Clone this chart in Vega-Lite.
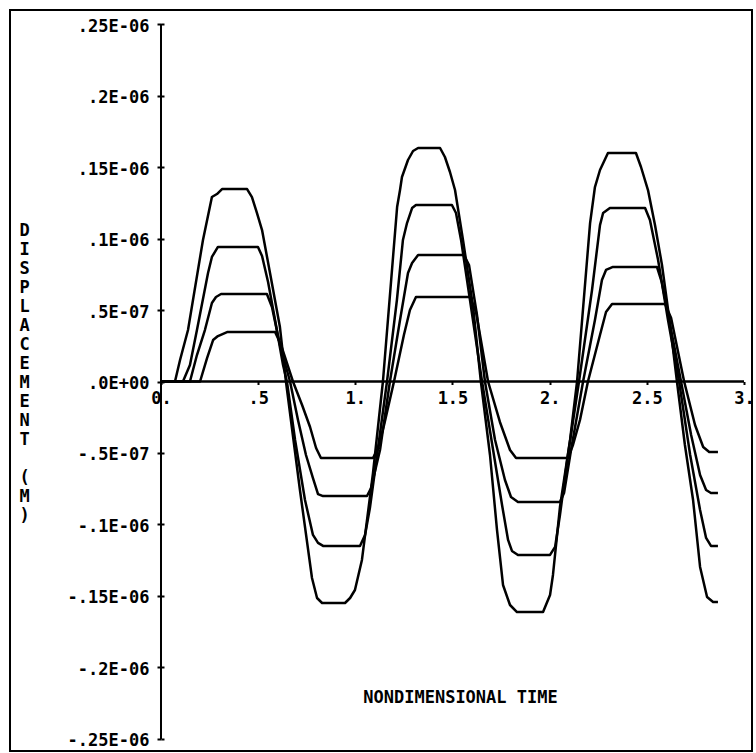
{
  "$schema": "https://vega.github.io/schema/vega-lite/v6.json",
  "width": 742,
  "height": 741,
  "autosize": {"type": "none"},
  "padding": {"left": 10, "top": 10, "right": 4, "bottom": 2},
  "background": "white",
  "config": {
    "view": {"stroke": "black", "strokeWidth": 2},
    "axis": {
      "labelFont": "DejaVu Sans Mono", "labelFontWeight": "bold", "labelColor": "black",
      "titleFont": "DejaVu Sans Mono", "titleFontWeight": "bold", "titleColor": "black",
      "grid": false, "domain": false, "tickColor": "black", "tickWidth": 2
    }
  },
  "resolve": {"axis": {"y": "independent"}},
  "datasets": {
    "curves": [
      {"curve":"A","time":0,"disp":0},{"curve":"A","time":0.072,"disp":0},{"curve":"A","time":0.098,"disp":0.150e-7},{"curve":"A","time":0.139,"disp":0.360e-7},{"curve":"A","time":0.216,"disp":0.990e-7},{"curve":"A","time":0.262,"disp":1.290e-7},{"curve":"A","time":0.288,"disp":1.311e-7},{"curve":"A","time":0.314,"disp":1.346e-7},{"curve":"A","time":0.443,"disp":1.346e-7},{"curve":"A","time":0.468,"disp":1.290e-7},{"curve":"A","time":0.494,"disp":1.178e-7},{"curve":"A","time":0.520,"disp":1.059e-7},{"curve":"A","time":0.561,"disp":0.759e-7},{"curve":"A","time":0.612,"disp":0.381e-7},{"curve":"A","time":0.643,"disp":0},{"curve":"A","time":0.715,"disp":-0.759e-7},{"curve":"A","time":0.777,"disp":-1.374e-7},{"curve":"A","time":0.803,"disp":-1.514e-7},{"curve":"A","time":0.829,"disp":-1.549e-7},{"curve":"A","time":0.947,"disp":-1.549e-7},{"curve":"A","time":0.973,"disp":-1.514e-7},{"curve":"A","time":0.998,"disp":-1.458e-7},{"curve":"A","time":1.034,"disp":-1.248e-7},{"curve":"A","time":1.091,"disp":-0.640e-7},{"curve":"A","time":1.142,"disp":0},{"curve":"A","time":1.215,"disp":1.220e-7},{"curve":"A","time":1.230,"disp":1.339e-7},{"curve":"A","time":1.240,"disp":1.430e-7},{"curve":"A","time":1.271,"disp":1.549e-7},{"curve":"A","time":1.297,"disp":1.612e-7},{"curve":"A","time":1.323,"disp":1.633e-7},{"curve":"A","time":1.436,"disp":1.633e-7},{"curve":"A","time":1.461,"disp":1.570e-7},{"curve":"A","time":1.487,"disp":1.465e-7},{"curve":"A","time":1.513,"disp":1.339e-7},{"curve":"A","time":1.554,"disp":0.990e-7},{"curve":"A","time":1.606,"disp":0.521e-7},{"curve":"A","time":1.646,"disp":0},{"curve":"A","time":1.693,"disp":-0.514e-7},{"curve":"A","time":1.729,"disp":-1.038e-7},{"curve":"A","time":1.760,"disp":-1.423e-7},{"curve":"A","time":1.796,"disp":-1.563e-7},{"curve":"A","time":1.832,"disp":-1.612e-7},{"curve":"A","time":1.966,"disp":-1.612e-7},{"curve":"A","time":2.002,"disp":-1.493e-7},{"curve":"A","time":2.017,"disp":-1.353e-7},{"curve":"A","time":2.053,"disp":-0.878e-7},{"curve":"A","time":2.105,"disp":-0.409e-7},{"curve":"A","time":2.141,"disp":0},{"curve":"A","time":2.208,"disp":1.108e-7},{"curve":"A","time":2.233,"disp":1.360e-7},{"curve":"A","time":2.259,"disp":1.479e-7},{"curve":"A","time":2.300,"disp":1.598e-7},{"curve":"A","time":2.444,"disp":1.598e-7},{"curve":"A","time":2.470,"disp":1.500e-7},{"curve":"A","time":2.506,"disp":1.339e-7},{"curve":"A","time":2.542,"disp":1.094e-7},{"curve":"A","time":2.578,"disp":0.815e-7},{"curve":"A","time":2.620,"disp":0.395e-7},{"curve":"A","time":2.655,"disp":0},{"curve":"A","time":2.696,"disp":-0.444e-7},{"curve":"A","time":2.738,"disp":-0.829e-7},{"curve":"A","time":2.774,"disp":-1.297e-7},{"curve":"A","time":2.810,"disp":-1.507e-7},{"curve":"A","time":2.841,"disp":-1.542e-7},{"curve":"A","time":2.866,"disp":-1.542e-7},

      {"curve":"B","time":0,"disp":0},{"curve":"B","time":0.113,"disp":0},{"curve":"B","time":0.149,"disp":0.115e-7},{"curve":"B","time":0.185,"disp":0.360e-7},{"curve":"B","time":0.242,"disp":0.759e-7},{"curve":"B","time":0.262,"disp":0.871e-7},{"curve":"B","time":0.293,"disp":0.941e-7},{"curve":"B","time":0.499,"disp":0.941e-7},{"curve":"B","time":0.520,"disp":0.878e-7},{"curve":"B","time":0.551,"disp":0.696e-7},{"curve":"B","time":0.587,"disp":0.430e-7},{"curve":"B","time":0.628,"disp":0.115e-7},{"curve":"B","time":0.648,"disp":0},{"curve":"B","time":0.690,"disp":-0.409e-7},{"curve":"B","time":0.741,"disp":-0.829e-7},{"curve":"B","time":0.782,"disp":-1.073e-7},{"curve":"B","time":0.808,"disp":-1.129e-7},{"curve":"B","time":0.834,"disp":-1.150e-7},{"curve":"B","time":1.024,"disp":-1.150e-7},{"curve":"B","time":1.050,"disp":-1.073e-7},{"curve":"B","time":1.075,"disp":-0.885e-7},{"curve":"B","time":1.112,"disp":-0.514e-7},{"curve":"B","time":1.163,"disp":0},{"curve":"B","time":1.214,"disp":0.570e-7},{"curve":"B","time":1.245,"disp":0.990e-7},{"curve":"B","time":1.266,"disp":1.108e-7},{"curve":"B","time":1.292,"disp":1.213e-7},{"curve":"B","time":1.312,"disp":1.234e-7},{"curve":"B","time":1.497,"disp":1.234e-7},{"curve":"B","time":1.518,"disp":1.178e-7},{"curve":"B","time":1.544,"disp":0.990e-7},{"curve":"B","time":1.590,"disp":0.570e-7},{"curve":"B","time":1.652,"disp":0},{"curve":"B","time":1.709,"disp":-0.479e-7},{"curve":"B","time":1.755,"disp":-0.864e-7},{"curve":"B","time":1.786,"disp":-1.108e-7},{"curve":"B","time":1.806,"disp":-1.185e-7},{"curve":"B","time":1.837,"disp":-1.213e-7},{"curve":"B","time":2.002,"disp":-1.213e-7},{"curve":"B","time":2.028,"disp":-1.157e-7},{"curve":"B","time":2.053,"disp":-0.934e-7},{"curve":"B","time":2.094,"disp":-0.514e-7},{"curve":"B","time":2.151,"disp":0},{"curve":"B","time":2.218,"disp":0.640e-7},{"curve":"B","time":2.259,"disp":1.094e-7},{"curve":"B","time":2.275,"disp":1.178e-7},{"curve":"B","time":2.310,"disp":1.213e-7},{"curve":"B","time":2.491,"disp":1.213e-7},{"curve":"B","time":2.516,"disp":1.129e-7},{"curve":"B","time":2.558,"disp":0.850e-7},{"curve":"B","time":2.609,"disp":0.430e-7},{"curve":"B","time":2.666,"disp":0},{"curve":"B","time":2.723,"disp":-0.514e-7},{"curve":"B","time":2.774,"disp":-0.899e-7},{"curve":"B","time":2.805,"disp":-1.094e-7},{"curve":"B","time":2.830,"disp":-1.150e-7},{"curve":"B","time":2.866,"disp":-1.150e-7},

      {"curve":"C","time":0,"disp":0},{"curve":"C","time":0.149,"disp":0},{"curve":"C","time":0.185,"disp":0.185e-7},{"curve":"C","time":0.226,"disp":0.360e-7},{"curve":"C","time":0.262,"disp":0.549e-7},{"curve":"C","time":0.283,"disp":0.591e-7},{"curve":"C","time":0.309,"disp":0.612e-7},{"curve":"C","time":0.545,"disp":0.612e-7},{"curve":"C","time":0.571,"disp":0.521e-7},{"curve":"C","time":0.612,"disp":0.255e-7},{"curve":"C","time":0.664,"disp":0},{"curve":"C","time":0.705,"disp":-0.269e-7},{"curve":"C","time":0.746,"disp":-0.514e-7},{"curve":"C","time":0.782,"disp":-0.675e-7},{"curve":"C","time":0.808,"disp":-0.787e-7},{"curve":"C","time":0.834,"disp":-0.801e-7},{"curve":"C","time":1.060,"disp":-0.801e-7},{"curve":"C","time":1.081,"disp":-0.745e-7},{"curve":"C","time":1.127,"disp":-0.479e-7},{"curve":"C","time":1.178,"disp":0},{"curve":"C","time":1.230,"disp":0.430e-7},{"curve":"C","time":1.271,"disp":0.759e-7},{"curve":"C","time":1.292,"disp":0.829e-7},{"curve":"C","time":1.323,"disp":0.885e-7},{"curve":"C","time":1.559,"disp":0.885e-7},{"curve":"C","time":1.585,"disp":0.815e-7},{"curve":"C","time":1.626,"disp":0.465e-7},{"curve":"C","time":1.667,"disp":0},{"curve":"C","time":1.719,"disp":-0.409e-7},{"curve":"C","time":1.770,"disp":-0.689e-7},{"curve":"C","time":1.801,"disp":-0.808e-7},{"curve":"C","time":1.837,"disp":-0.843e-7},{"curve":"C","time":2.053,"disp":-0.843e-7},{"curve":"C","time":2.074,"disp":-0.780e-7},{"curve":"C","time":2.110,"disp":-0.479e-7},{"curve":"C","time":2.172,"disp":0},{"curve":"C","time":2.233,"disp":0.430e-7},{"curve":"C","time":2.269,"disp":0.710e-7},{"curve":"C","time":2.290,"disp":0.780e-7},{"curve":"C","time":2.326,"disp":0.801e-7},{"curve":"C","time":2.552,"disp":0.801e-7},{"curve":"C","time":2.578,"disp":0.689e-7},{"curve":"C","time":2.620,"disp":0.395e-7},{"curve":"C","time":2.676,"disp":0},{"curve":"C","time":2.728,"disp":-0.374e-7},{"curve":"C","time":2.774,"disp":-0.654e-7},{"curve":"C","time":2.805,"disp":-0.759e-7},{"curve":"C","time":2.830,"disp":-0.780e-7},{"curve":"C","time":2.866,"disp":-0.780e-7},

      {"curve":"D","time":0,"disp":0},{"curve":"D","time":0.201,"disp":0},{"curve":"D","time":0.237,"disp":0.164e-7},{"curve":"D","time":0.268,"disp":0.290e-7},{"curve":"D","time":0.293,"disp":0.318e-7},{"curve":"D","time":0.340,"disp":0.346e-7},{"curve":"D","time":0.587,"disp":0.346e-7},{"curve":"D","time":0.618,"disp":0.255e-7},{"curve":"D","time":0.679,"disp":0},{"curve":"D","time":0.726,"disp":-0.164e-7},{"curve":"D","time":0.767,"disp":-0.318e-7},{"curve":"D","time":0.798,"disp":-0.465e-7},{"curve":"D","time":0.823,"disp":-0.535e-7},{"curve":"D","time":1.091,"disp":-0.535e-7},{"curve":"D","time":1.117,"disp":-0.465e-7},{"curve":"D","time":1.148,"disp":-0.304e-7},{"curve":"D","time":1.199,"disp":0},{"curve":"D","time":1.250,"disp":0.325e-7},{"curve":"D","time":1.281,"disp":0.500e-7},{"curve":"D","time":1.312,"disp":0.591e-7},{"curve":"D","time":1.590,"disp":0.591e-7},{"curve":"D","time":1.621,"disp":0.486e-7},{"curve":"D","time":1.683,"disp":0},{"curve":"D","time":1.744,"disp":-0.283e-7},{"curve":"D","time":1.796,"disp":-0.479e-7},{"curve":"D","time":1.827,"disp":-0.535e-7},{"curve":"D","time":2.094,"disp":-0.535e-7},{"curve":"D","time":2.120,"disp":-0.444e-7},{"curve":"D","time":2.156,"disp":-0.269e-7},{"curve":"D","time":2.197,"disp":0},{"curve":"D","time":2.259,"disp":0.325e-7},{"curve":"D","time":2.290,"disp":0.486e-7},{"curve":"D","time":2.321,"disp":0.542e-7},{"curve":"D","time":2.594,"disp":0.542e-7},{"curve":"D","time":2.625,"disp":0.444e-7},{"curve":"D","time":2.692,"disp":0},{"curve":"D","time":2.748,"disp":-0.304e-7},{"curve":"D","time":2.790,"disp":-0.458e-7},{"curve":"D","time":2.821,"disp":-0.493e-7},{"curve":"D","time":2.866,"disp":-0.493e-7}
    ]
  },
  "layer": [
    {
      "data": {"name": "curves"},
      "mark": {"type": "line", "color": "black", "strokeWidth": 2.5, "strokeJoin": "round"},
      "encoding": {
        "x": {
          "field": "time", "type": "quantitative",
          "scale": {"domain": [-0.777, 3.0412], "nice": false, "zero": false},
          "axis": {
            "orient": "bottom", "offset": -369.5,
            "values": [0, 0.5, 1, 1.5, 2, 2.5, 3],
            "labelExpr": "datum.value == 0 ? '0.' : datum.value == 0.5 ? '.5' : datum.value == 1 ? '1.' : datum.value == 1.5 ? '1.5' : datum.value == 2 ? '2.' : datum.value == 2.5 ? '2.5' : '3.'",
            "tickSize": 3, "labelPadding": 6, "labelFontSize": 17,
            "labelOverlap": false, "labelFlush": false, "labelBound": false,
            "title": "NONDIMENSIONAL TIME", "titleX": 450, "titleY": 315.5,
            "titleAlign": "center", "titleBaseline": "middle", "titleFontSize": 17
          }
        },
        "y": {
          "field": "disp", "type": "quantitative",
          "scale": {"domain": [-2.584e-7, 2.598e-7], "nice": false, "zero": false},
          "axis": {
            "orient": "left", "offset": -151,
            "values": [-2.5e-7, -2e-7, -1.5e-7, -1e-7, -0.5e-7, 0, 0.5e-7, 1e-7, 1.5e-7, 2e-7, 2.5e-7],
            "labelExpr": "datum.value > 2.4e-7 ? '.25E-06' : datum.value > 1.9e-7 ? '.2E-06' : datum.value > 1.4e-7 ? '.15E-06' : datum.value > 0.9e-7 ? '.1E-06' : datum.value > 0.4e-7 ? '.5E-07' : datum.value > -0.1e-7 ? '.0E+00' : datum.value > -0.6e-7 ? '-.5E-07' : datum.value > -1.1e-7 ? '-.1E-06' : datum.value > -1.6e-7 ? '-.15E-06' : datum.value > -2.1e-7 ? '-.2E-06' : '-.25E-06'",
            "tickSize": 4, "labelPadding": 8, "labelFontSize": 17, "labelBaseline": "middle", "labelOffset": 2,
            "labelOverlap": false, "labelFlush": false, "labelBound": false,
            "title": ["D", "I", "S", "P", "L", "A", "C", "E", "M", "E", "N", "T", "\u2800", "(", "M", ")"],
            "titleAngle": 0, "titleX": -137, "titleY": 212, "titleAlign": "center",
            "titleBaseline": "top", "titleFontSize": 17, "titleLineHeight": 19
          }
        },
        "detail": {"field": "curve"}
      }
    },
    {
      "data": {"values": [{}]},
      "mark": {"type": "rule", "color": "black", "strokeWidth": 2.5},
      "encoding": {"x": {"datum": 0}, "x2": {"datum": 3}, "y": {"datum": 0, "axis": null}}
    },
    {
      "data": {"values": [{}]},
      "mark": {"type": "rule", "color": "black", "strokeWidth": 2},
      "encoding": {
        "x": {"datum": 0},
        "y": {"datum": -2.5e-7, "axis": {"orient": "right", "offset": -591, "values": [-2.5e-7, -2e-7, -1.5e-7, -1e-7, -0.5e-7, 0, 0.5e-7, 1e-7, 1.5e-7, 2e-7, 2.5e-7], "labels": false, "title": null, "tickSize": 3}},
        "y2": {"datum": 2.5e-7}
      }
    }
  ]
}
